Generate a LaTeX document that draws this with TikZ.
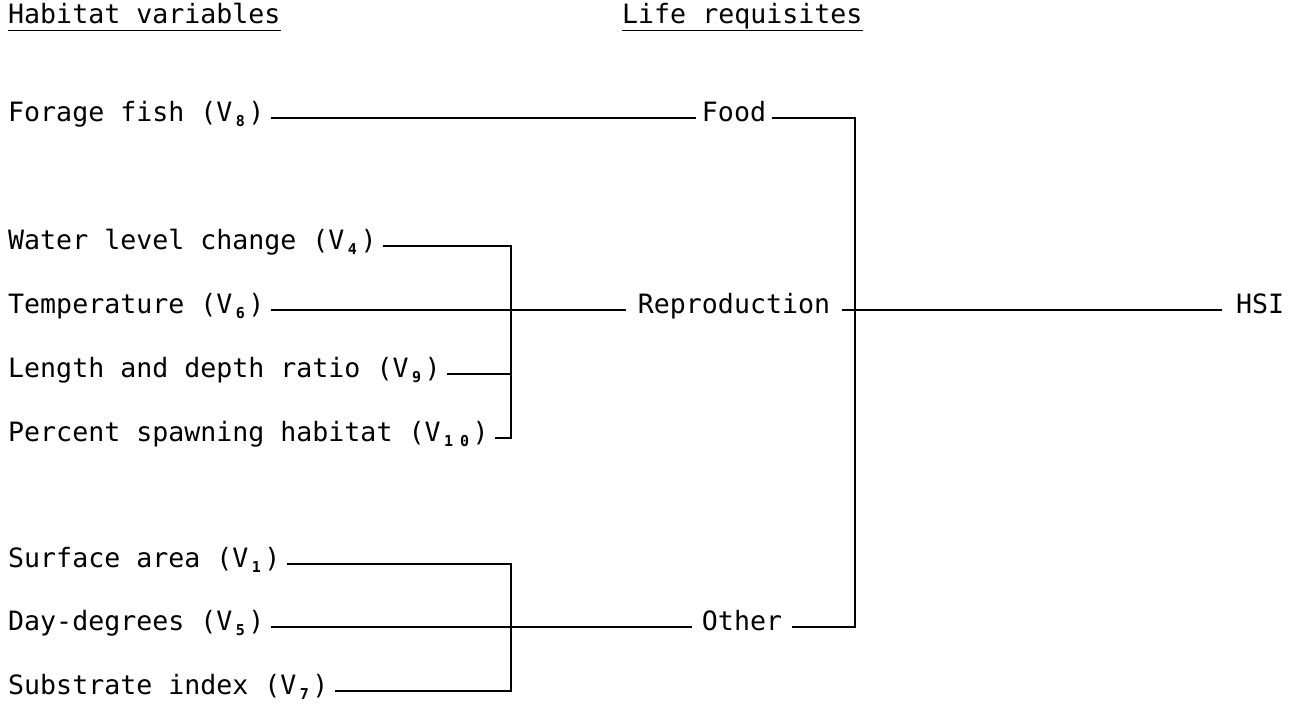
\documentclass[tikz,border=0pt]{standalone}
\usepackage{fontspec}
\setmonofont{DejaVu Sans Mono}
\usetikzlibrary{positioning}

\newcommand{\vsub}[1]{\makebox[0.602em]{\raisebox{-0.35ex}{\fontsize{15pt}{15pt}\selectfont\bfseries #1}}}

\tikzset{
  lbl/.style={inner xsep=6pt, inner ysep=0pt, text height=0.9em, text depth=0.15em,
    font=\ttfamily\fontsize{26.6pt}{30pt}\selectfont},
  wire/.style={line width=1.8pt},
}

\begin{document}
\begin{tikzpicture}[x=1pt,y=-1pt]
\useasboundingbox (0,0) rectangle (1295,704);
% headings
\node[lbl, anchor=west, inner xsep=0pt] (hv) at (8,20) {Habitat variables};
\node[lbl, anchor=west, inner xsep=0pt] (lr) at (622,20) {Life requisites};
\draw[line width=1.5pt] ([yshift=-5pt]hv.south west) -- ([yshift=-5pt]hv.south east);
\draw[line width=1.5pt] ([yshift=-5pt]lr.south west) -- ([yshift=-5pt]lr.south east);
% habitat variables
\node[lbl, anchor=west] (v8) at (2,118) {Forage fish (V\vsub{8})};
\node[lbl, anchor=west] (v4) at (2,246) {Water level change (V\vsub{4})};
\node[lbl, anchor=west] (v6) at (2,310) {Temperature (V\vsub{6})};
\node[lbl, anchor=west] (v9) at (2,374) {Length and depth ratio (V\vsub{9})};
\node[lbl, anchor=west] (v10) at (2,438) {Percent spawning habitat (V\vsub{1}\vsub{0})};
\node[lbl, anchor=west] (v1) at (2,564) {Surface area (V\vsub{1})};
\node[lbl, anchor=west] (v5) at (2,627) {Day-degrees (V\vsub{5})};
\node[lbl, anchor=west] (v7) at (2,691) {Substrate index (V\vsub{7})};
% life requisites
\node[lbl] (food) at (734,118) {Food};
\node[lbl, inner xsep=12pt] (repro) at (734,310) {Reproduction};
\node[lbl, inner xsep=10pt] (other) at (742,627) {Other};
\node[lbl, anchor=west, inner xsep=14pt] (hsi) at (1222,310) {HSI};
% junctions
\coordinate (ja) at (511,246);
\coordinate (jb) at (511,438);
\coordinate (jc) at (511,564);
\coordinate (jd) at (511,691);
\coordinate (je) at (855,118);
\coordinate (jf) at (855,627);
% connectors
\draw[wire] (v8) -- (food);
\draw[wire] (v4) -- (ja) -- (jb) -- (v10);
\draw[wire] (v9) -- (v9 -| ja);
\draw[wire] (v6) -- (repro);
\draw[wire] (v1) -- (jc) -- (jd) -- (v7);
\draw[wire] (v5) -- (other);
\draw[wire] (food) -- (je) -- (jf) -- (other);
\draw[wire] (repro) -- (hsi);
\end{tikzpicture}
\end{document}
